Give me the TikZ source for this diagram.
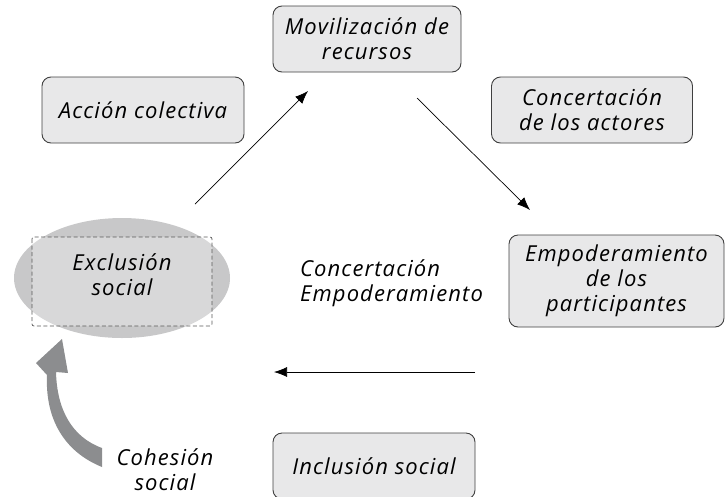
\documentclass[tikz,border=0pt]{standalone}
\usepackage{fontspec}
\setmainfont{Open Sans}[LetterSpace=5]
\usetikzlibrary{arrows.meta,shapes.geometric}
\definecolor{boxgray}{RGB}{232,232,233}
\definecolor{ellgray}{RGB}{200,200,201}
\definecolor{arrgray}{RGB}{140,141,143}
\tikzset{
  box/.style={draw=black!75, line width=0.9pt, fill=boxgray, rounded corners=9pt,
    align=center, inner sep=0pt, font=\fontsize{22}{25}\selectfont\itshape},
  lbl/.style={align=center, inner sep=0pt, font=\fontsize{22}{25}\selectfont\itshape},
  flow/.style={line width=0.7pt, -{Latex[length=13pt,width=10pt]}}
}
\begin{document}
\begin{tikzpicture}[x=1pt,y=-1pt]
\useasboundingbox (0,0) rectangle (727,496);
% boxes
\node[box, minimum width=188pt, minimum height=66pt] (mov) at (367,39) {Movilización de\\recursos};
\node[box, minimum width=202pt, minimum height=66pt] (accion) at (143,110) {Acción colectiva};
\node[box, minimum width=201pt, minimum height=66pt] (concert) at (592,110) {Concertación\\de los actores};
\node[box, minimum width=215pt, minimum height=92pt] (empod) at (616.5,281) {Empoderamiento\\de los\\participantes};
\node[box, minimum width=202pt, minimum height=66pt] (inclus) at (374,466) {Inclusión social};

% exclusion
\node[ellipse, fill=ellgray, inner sep=0pt, minimum width=216pt, minimum height=120pt] (exclbg) at (122,278) {};
\draw[draw=black!65, dash pattern=on 4pt off 2.5pt, line width=0.7pt, fill=white, fill opacity=0.3,
  rounded corners=2pt] (32,237) rectangle (212,326);
\node[lbl] (excl) at (122,275) {Exclusión\\social};

% centre text
\node[lbl, align=left, anchor=west] (centro) at (300,283) {Concertación\\Empoderamiento};

% arrows
\coordinate (a1s) at (195,204);
\coordinate (a1e) at (308,91);
\coordinate (a2s) at (417,98);
\coordinate (a2e) at (530,210);
\coordinate (a3s) at (475,372);
\coordinate (a3e) at (274,372);
\draw[flow] (a1s) -- (a1e);
\draw[flow] (a2s) -- (a2e);
\draw[flow] (a3s) -- (a3e);

% cohesion arrow
\fill[arrgray] (102,467) .. controls (65,452) and (45,420) .. (47,375)
  -- (36,363) -- (62,339) -- (68,373) -- (56,372)
  .. controls (57,410) and (72,437) .. (102,448) -- cycle;
\node[lbl] (cohes) at (165,470) {Cohesión\\social};
\end{tikzpicture}
\end{document}
